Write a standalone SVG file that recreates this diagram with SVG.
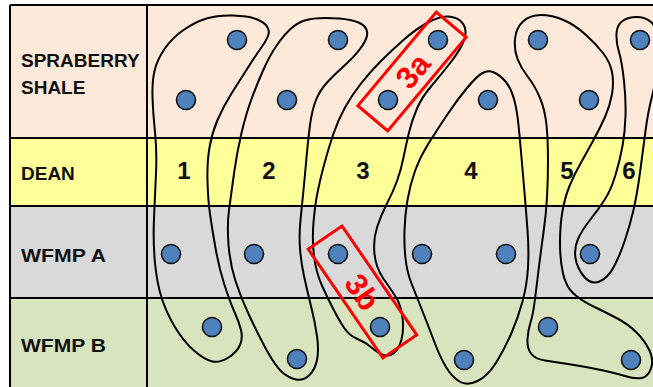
<svg xmlns="http://www.w3.org/2000/svg" width="653" height="387" viewBox="0 0 653 387">
  <style>
    .grid { stroke: #000; stroke-width: 2; fill: none; }
    .label { font-family: "Liberation Sans", Arial, sans-serif; font-weight: bold; font-size: 19px; fill: #111; }
    .num { font-family: "Liberation Sans", Arial, sans-serif; font-weight: bold; font-size: 24px; fill: #111; text-anchor: middle; }
    .zone { fill: none; stroke: #000; stroke-width: 2; stroke-linejoin: round; }
    .well { fill: #4F81BD; stroke: #111; stroke-width: 1.6; }
    .callout-box { fill: none; stroke: #FF0000; stroke-width: 3; }
    .callout-text { font-family: "Liberation Sans", Arial, sans-serif; font-weight: bold; font-size: 31px; fill: #FF0000; text-anchor: middle; }
  </style>

  <!-- formation rows -->
  <g id="rows">
    <rect x="10" y="5" width="643" height="133" fill="#FDE9D9"/>
    <rect x="10" y="138" width="643" height="68" fill="#FFFF99"/>
    <rect x="10" y="206" width="643" height="92" fill="#D9D9D9"/>
    <rect x="10" y="298" width="643" height="89" fill="#D7E4BD"/>
    <path class="grid" d="M10,5 H653 M10,5 V387 M147,5 V387 M10,138 H653 M10,206 H653 M10,298 H653"/>
  </g>

  <g id="row-labels">
    <text class="label" x="21" y="67">SPRABERRY</text>
    <text class="label" x="21" y="94">SHALE</text>
    <text class="label" x="21" y="180">DEAN</text>
    <text class="label" x="21" y="262" textLength="85" lengthAdjust="spacingAndGlyphs">WFMP A</text>
    <text class="label" x="21" y="352" textLength="85" lengthAdjust="spacingAndGlyphs">WFMP B</text>
  </g>

  <g id="zone-numbers">
    <text class="num" x="184" y="179">1</text>
    <text class="num" x="269" y="179">2</text>
    <text class="num" x="363" y="179">3</text>
    <text class="num" x="471" y="179">4</text>
    <text class="num" x="567" y="179">5</text>
    <text class="num" x="629" y="179">6</text>
  </g>

  <!-- zone outlines -->
  <g id="zones">
    <path id="zone-1" class="zone" d="M206.5,18.5 Q218,15 233,15.5 Q248,16 256,19 Q264,22 267,26.5 Q270,31 268,36 Q266,41 261,48 Q256,55 248,67.5 Q240,80 231.5,93.5 Q223,107 217.5,120 Q212,133 209.5,147.5 Q207,162 207.5,181 Q208,200 210,214 Q212,228 215.5,248 Q219,268 224.5,285 Q230,302 234.5,312 Q239,322 241,330 Q243,338 240,345 Q237,352 228.5,357.5 Q220,363 212.5,361.5 Q205,360 194.5,351 Q184,342 175.5,328 Q167,314 162,299 Q157,284 155,263 Q153,242 154,218.5 Q155,195 156,173.5 Q157,152 155,132 Q153,112 152.5,97 Q152,82 154.5,71 Q157,60 164.5,49 Q172,38 183.5,30 Q195,22 206.5,18.5 Z"/>
    <path id="zone-2" class="zone" d="M304.5,20.5 Q312,18 326,18 Q340,18 350,20 Q360,22 364,26 Q368,30 367,35.5 Q366,41 360,49 Q354,57 344.5,65.5 Q335,74 327.5,82 Q320,90 316,100 Q312,110 310,125 Q308,140 306.5,157.5 Q305,175 303.5,190 Q302,205 300.5,220 Q299,235 300,248.5 Q301,262 304,276 Q307,290 311,306 Q315,322 317,336 Q319,350 317,360 Q315,370 309,375.5 Q303,381 296,379.5 Q289,378 282.5,372.5 Q276,367 266.5,350 Q257,332 249,315 Q241,298 235.5,281 Q230,264 228.5,244.5 Q227,225 229,210 Q231,195 234,173.5 Q237,152 241.5,133 Q246,114 251.5,99 Q257,84 263.5,69.5 Q270,55 277,45 Q284,35 290.5,29 Q297,23 304.5,20.5 Z"/>
    <path id="zone-3" class="zone" d="M428,22.5 Q440,16 448,16.5 Q456,17 460.5,21 Q465,25 465.5,31 Q466,37 462,45 Q458,53 449,64.5 Q440,76 431,86.5 Q422,97 417,108.5 Q412,120 409,132.5 Q406,145 403.5,157.5 Q401,170 397,181 Q393,192 387,203.5 Q381,215 377,227.5 Q373,240 374.5,254 Q376,268 383,278 Q390,288 395.5,296.5 Q401,305 402.5,317.5 Q404,330 401.5,339.5 Q399,349 394,353 Q389,357 383.5,355 Q378,353 371.5,347.5 Q365,342 357.5,339 Q350,336 345,329 Q340,322 333.5,309.5 Q327,297 321.5,284.5 Q316,272 314,256 Q312,240 313.5,222.5 Q315,205 317.5,192.5 Q320,180 324,165 Q328,150 333,135 Q338,120 345,107.5 Q352,95 361,83.5 Q370,72 381,61 Q392,50 404,39.5 Q416,29 428,22.5 Z"/>
    <path id="zone-4" class="zone" d="M482.5,73 Q488,70 494,72.5 Q500,75 505.5,81.5 Q511,88 514,99 Q517,110 518.5,125 Q520,140 521.5,157.5 Q523,175 524.5,192.5 Q526,210 527.5,230 Q529,250 528,267.5 Q527,285 522.5,301.5 Q518,318 511.5,333 Q505,348 496.5,362 Q488,376 477.5,381 Q467,386 459.5,381.5 Q452,377 446,367 Q440,357 434,341 Q428,325 422,310 Q416,295 411.5,283.5 Q407,272 405.5,258.5 Q404,245 404.5,230 Q405,215 407.5,200 Q410,185 415,171 Q420,157 428.5,143.5 Q437,130 447,115 Q457,100 467,88 Q477,76 482.5,73 Z"/>
    <path id="zone-5" class="zone" d="M523,21.5 Q530,15 541,15 Q552,15 563.5,20 Q575,25 585.5,34.5 Q596,44 603,53 Q610,62 612,72 Q614,82 612,94 Q610,106 605,117 Q600,128 593.5,140 Q587,152 580.5,163.5 Q574,175 569.5,186 Q565,197 562.5,211 Q560,225 560,242.5 Q560,260 563,273.5 Q566,287 574,294 Q582,301 593.5,306.5 Q605,312 616.5,318 Q628,324 636.5,332.5 Q645,341 649.5,350.5 Q654,360 651,368.5 Q648,377 641.5,378 Q635,379 625,376 Q615,373 601,370 Q587,367 571,364.5 Q555,362 545,360.5 Q535,359 531,353.5 Q527,348 527.5,339 Q528,330 530.5,322.5 Q533,315 535,299 Q537,283 539,266.5 Q541,250 543.5,232.5 Q546,215 547,197.5 Q548,180 548,160 Q548,140 546.5,125 Q545,110 540,98 Q535,86 528,77 Q521,68 517.5,59 Q514,50 515,39 Q516,28 523,21.5 Z"/>
    <path id="zone-6" class="zone" d="M622.5,21 Q628,17 636.5,17 Q645,17 650.5,21.5 Q656,26 658,38 Q660,50 657.5,67.5 Q655,85 651.5,98.5 Q648,112 645.5,131 Q643,150 640,172.5 Q637,195 633.5,210 Q630,225 625,240 Q620,255 614,266.5 Q608,278 599.5,281.5 Q591,285 584,276.5 Q577,268 575.5,258 Q574,248 578,239 Q582,230 590,220 Q598,210 604.5,200 Q611,190 615.5,175 Q620,160 622.5,146 Q625,132 625.5,116 Q626,100 624,81 Q622,62 619,52 Q616,42 616.5,33.5 Q617,25 622.5,21 Z"/>
  </g>

  <!-- wells -->
  <g id="wells">
    <circle class="well" cx="237" cy="40" r="9.5"/>
    <circle class="well" cx="338" cy="40" r="9.5"/>
    <circle class="well" cx="438" cy="40" r="9.5"/>
    <circle class="well" cx="538" cy="40" r="9.5"/>
    <circle class="well" cx="640" cy="40" r="9.5"/>
    <circle class="well" cx="186" cy="100" r="9.5"/>
    <circle class="well" cx="287" cy="100" r="9.5"/>
    <circle class="well" cx="388" cy="100" r="9.5"/>
    <circle class="well" cx="488" cy="100" r="9.5"/>
    <circle class="well" cx="589" cy="100" r="9.5"/>
    <circle class="well" cx="171" cy="254" r="9.5"/>
    <circle class="well" cx="254" cy="254" r="9.5"/>
    <circle class="well" cx="338" cy="254" r="9.5"/>
    <circle class="well" cx="422" cy="254" r="9.5"/>
    <circle class="well" cx="506" cy="254" r="9.5"/>
    <circle class="well" cx="590" cy="254" r="9.5"/>
    <circle class="well" cx="212" cy="327" r="9.5"/>
    <circle class="well" cx="380" cy="327" r="9.5"/>
    <circle class="well" cx="548" cy="327" r="9.5"/>
    <circle class="well" cx="297" cy="359" r="9.5"/>
    <circle class="well" cx="464" cy="360" r="9.5"/>
    <circle class="well" cx="631" cy="360" r="9.5"/>
  </g>

  <!-- highlighted well pairs -->
  <g id="callout-3a" transform="translate(412,71.5) rotate(-50)">
    <rect class="callout-box" x="-61" y="-19.5" width="122" height="39"/>
    <text class="callout-text" x="1" y="11">3a</text>
  </g>
  <g id="callout-3b" transform="translate(362.5,292) rotate(55.5)">
    <rect class="callout-box" x="-66" y="-20.5" width="132" height="41"/>
    <text class="callout-text" x="0" y="11">3b</text>
  </g>
</svg>
